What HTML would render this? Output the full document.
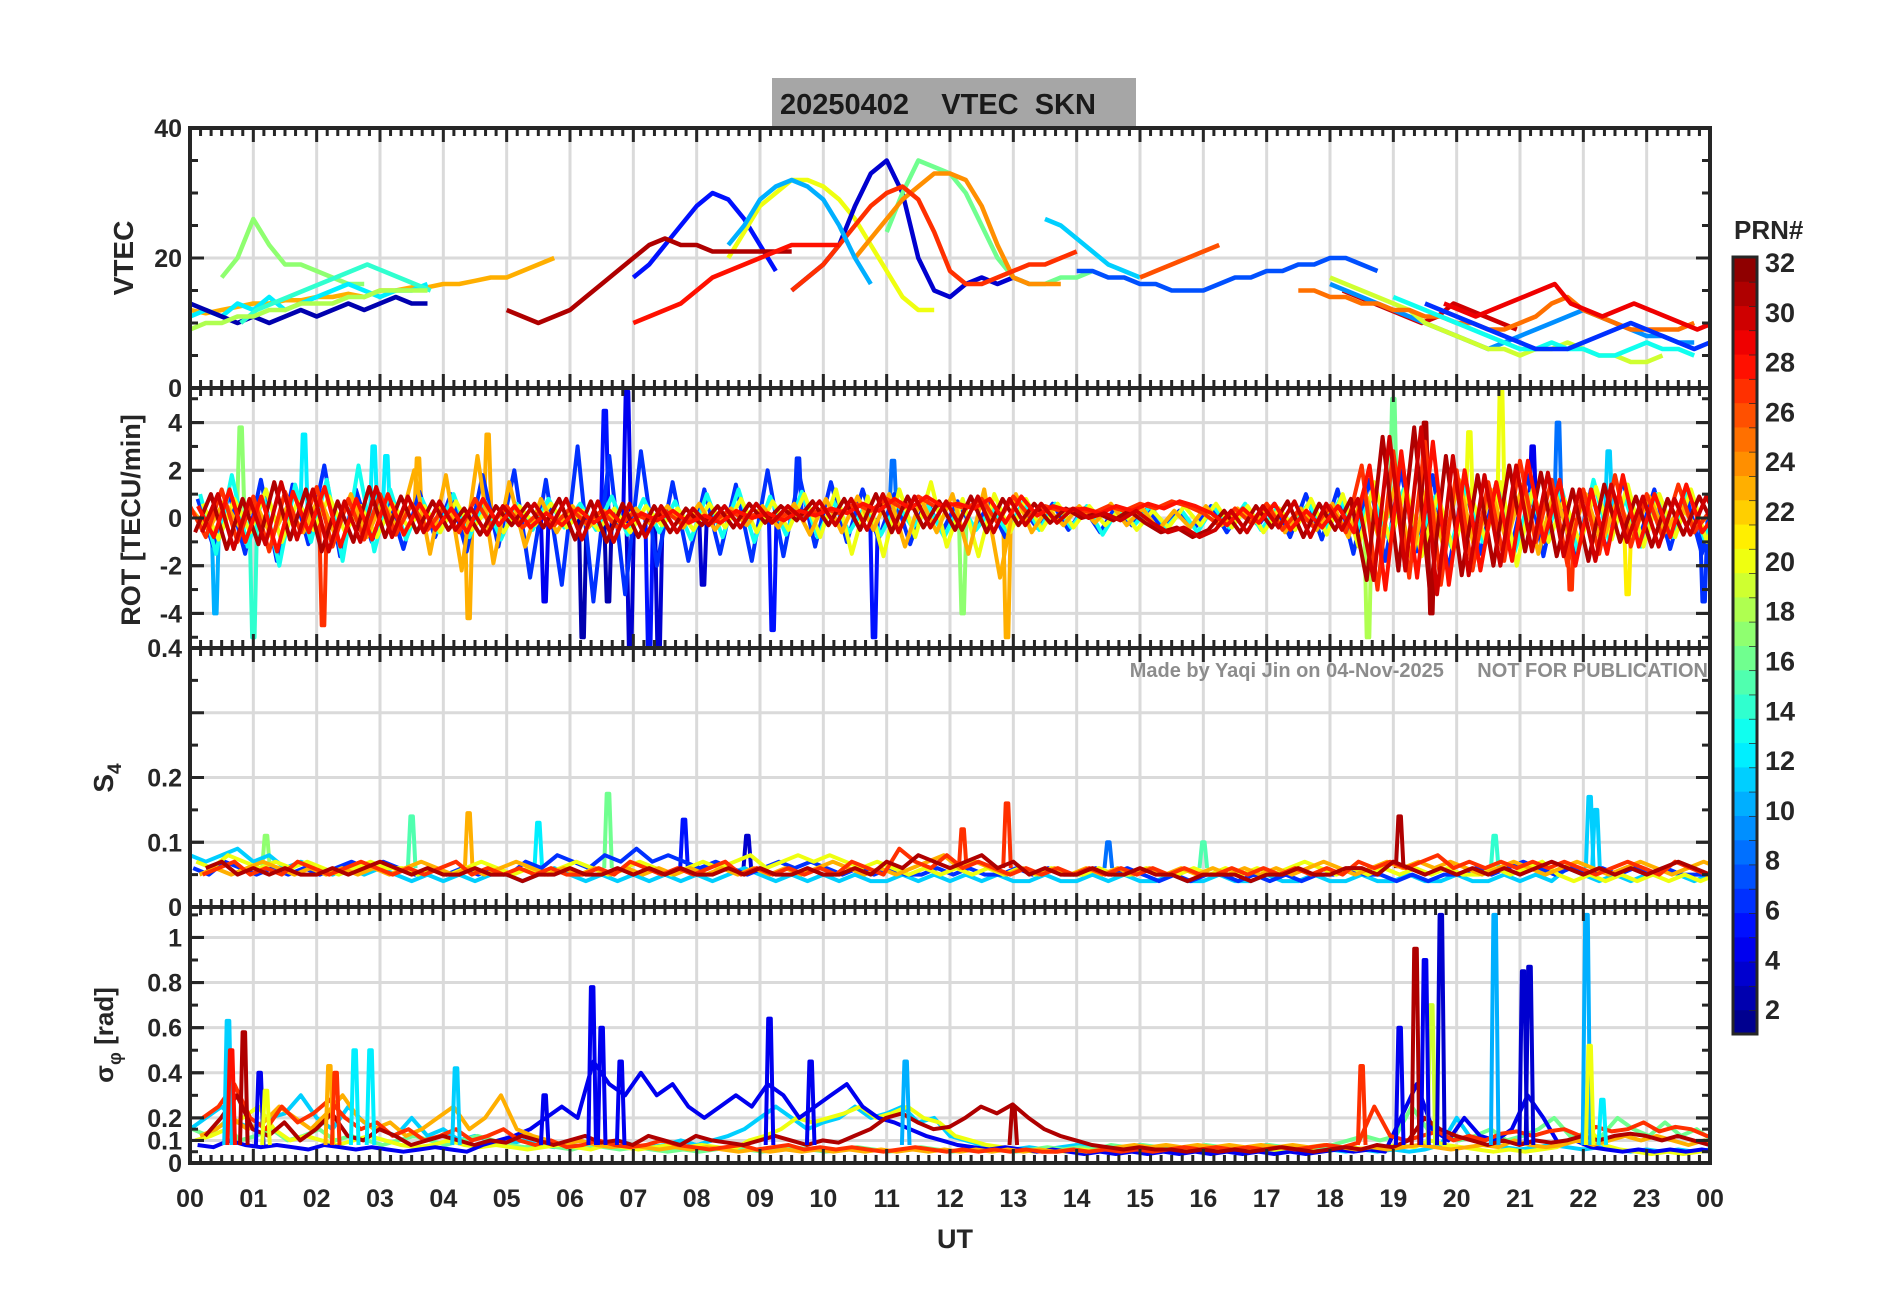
<!DOCTYPE html>
<html><head><meta charset="utf-8">
<style>
html,body{margin:0;padding:0;background:#fff;}
svg{display:block;font-family:"Liberation Sans",sans-serif;}
</style></head>
<body>
<svg id="chart" width="1902" height="1292" viewBox="0 0 1902 1292" xmlns="http://www.w3.org/2000/svg">
<rect x="0" y="0" width="1902" height="1292" fill="#fff"/>
<rect x="772" y="78" width="364" height="49" fill="#a6a6a6"/>
<text x="780" y="114" text-anchor="start" font-size="29" font-weight="bold" fill="#1a1a1a" xml:space="preserve">20250402    VTEC  SKN</text>
<g id="layer"></g>
</svg>
<script>
// ---------- DATA ----------
const hourLabels=["00","01","02","03","04","05","06","07","08","09","10","11","12","13","14","15","16","17","18","19","20","21","22","23","00"];
const vtecTicks=[0,20,40];
const rotTicks=[-4,-2,0,2,4];
const s4Ticks=[0,0.1,0.2,0.4];
const sigTicks=[0,0.1,0.2,0.4,0.6,0.8,1];
const cbTicks=[2,4,6,8,10,12,14,16,18,20,22,24,26,28,30,32];

// VTEC tracks: PRN, start hour, step 0.25h values
const vtecPrn=[17,23,5,20,3,16,24,27,31,10,28,11,26,7,12,2,14,30,9,19,25,13,6,29,18];
const vtecT0=[0.5,0.0,7.0,8.5,9.5,11.0,10.5,9.5,5.0,8.5,7.0,13.5,15.0,14.0,0.0,0.0,0.8,18.2,18.0,18.0,17.5,19.0,19.5,19.8,0.0];
const vtecVals=[
[17,20,26,22,19,19,18,17,16,16],
[12,11.5,12,12.5,13,13,13.5,13.5,14,14,14.5,14,15,15,15.5,15.5,16,16,16.5,17,17,18,19,20],
[17,19,22,25,28,30,29,26,22,18],
[20,24,28,30,32,32,31,29,26,22,18,14,12,12],
[15,17,19,22,28,33,35,30,20,15,14,16,17,16,17,16],
[24,30,35,34,33,30,25,20,17,16,16,17,17,18],
[20,23,26,29,31,33,33,32,28,22,17,16,16,16],
[15,17,19,22,25,28,30,31,29,24,18,16,16,17,18,19,19,20,21],
[12,11,10,11,12,14,16,18,20,22,23,22,22,21,21,21,21,21,21],
[22,25,29,31,32,31,29,25,20,16],
[10,11,12,13,15,17,18,19,20,21,22,22,22,22],
[26,25,23,21,19,18,17],
[17,18,19,20,21,22],
[18,18,17,17,16,16,15,15,15,16,17,17,18,18,19,19,20,20,19,18],
[11,12,11,13,12,14,12,13,14,15,16,15,14,15,15,16],
[13,12,11,10,11,10,11,12,11,12,13,12,13,14,13,13],
[10,12,13,14,15,16,17,18,19,18,17,16,15],
[15,14,13,12,11,10,11,13,12,11,10,9],
[16,15,14,13,12,11,10,9,8,7,6,7,8,9,10,11,12,11,10,9,8,8,7,7],
[17,16,15,14,13,12,10,9,8,7,6,6,5,6,6,7,6,5,5,4,4,5],
[15,15,14,14,13,13,12,12,11,11,10,10,9,9,10,11,13,14,12,11,10,9,9,9,9,10],
[14,13,12,11,10,9,8,7,6,6,7,6,6,5,5,6,7,6,6,5],
[13,12,11,10,9,8,7,6,6,6,7,8,9,10,9,8,7,6,7,8],
[13,12,11,12,13,14,15,16,13,12,11,12,13,12,11,10,9,10],
[9,10,10,11,11,12,12,13,13,13,14,14,15,15,15,15]
];

// ROT series: PRN, start offset, index into value table, step 0.25h
const rotPrn=[6,13,20,23,27,31,28,30];
const rotT0=[0.12,0.16,0.2,0.04,0,0.08,0.125,0.19];
const rotIdx=[3,4,5,2,0,1,0,1];
const rotVals=[
[0.5,-0.8,1.2,-1.0,0.9,-1.4,1.1,-0.6,1.3,-1.2,0.8,-0.9,1.0,-0.7,0.6,-0.5,0.4,-0.6,0.8,-0.3,0.5,-0.4,0.2,-0.3,0.4,-0.2,0.3,-0.4,0.2,-0.1,0.3,-0.2,0.1,-0.2,0.3,0.0,0.2,-0.1,0.3,0.1,0.4,0.2,0.6,0.3,0.8,0.4,0.9,0.5,0.6,0.4,0.8,-0.2,0.9,0.1,0.5,0.3,0.4,0.2,0.5,0.3,0.6,0.4,0.7,0.5,0.2,-0.3,0.4,-0.2,0.6,-0.5,0.3,-0.4,0.5,-0.6,2.2,-3.0,2.8,-2.5,3.2,-2.8,2.0,-2.2,1.5,-1.8,2.4,-1.0,1.6,-2.0,1.2,-1.5,1.8,-1.2,1.0,-0.8,1.4,-0.6,0.3],
[-0.6,1.0,-1.3,0.8,-1.1,1.5,-0.9,1.2,-1.4,0.7,-1.0,1.3,-0.8,0.9,-0.6,0.7,-0.5,0.4,-0.7,0.5,-0.3,0.6,-0.4,0.8,-0.9,0.7,-1.0,0.6,-0.8,0.5,-0.6,0.4,-0.3,0.5,-0.4,0.6,-0.2,0.5,-0.1,0.7,-0.3,0.8,-0.5,1.0,-0.6,0.9,-0.4,0.7,-0.5,0.9,-0.6,0.8,-0.3,0.6,-0.2,0.4,0.0,0.2,-0.1,0.3,-0.2,-0.6,-0.4,-0.8,-0.5,0.3,-0.6,0.5,-0.4,0.7,-0.8,0.6,-0.5,0.8,-2.6,3.4,-2.2,3.8,-3.2,2.6,-2.4,1.8,-2.0,2.2,-1.4,1.9,-1.6,1.2,-1.8,1.4,-1.0,0.9,-1.2,0.8,-0.7,0.9,-0.4],
[0.3,-0.5,0.7,-0.4,0.6,-0.8,0.5,-0.6,0.9,-0.7,1.0,-0.8,0.7,-0.5,2.0,-1.5,1.8,-2.2,2.6,-1.9,1.5,-1.2,0.8,-0.6,0.5,-0.4,0.3,-0.2,0.4,-0.3,0.5,-0.4,0.6,-0.5,0.4,-0.3,0.5,-0.4,0.6,-0.7,0.8,-0.6,0.9,-0.5,1.0,-1.2,0.8,-0.6,1.0,-1.5,1.2,-2.5,1.0,-0.6,0.4,-0.3,0.5,-0.2,0.6,-0.3,0.4,-0.5,0.3,-0.4,0.5,-0.3,0.4,-0.2,0.5,-0.6,0.4,-0.5,0.6,-0.8,1.2,-1.0,1.5,-1.8,1.4,-1.2,1.6,-1.4,1.2,-1.0,1.4,-1.5,1.2,-0.9,1.0,-1.1,0.8,-0.7,0.9,-0.6,0.5,-0.4,0.3],
[0.8,-1.2,1.0,-1.5,1.6,-1.8,1.4,-1.1,2.2,-1.6,1.2,-1.0,0.9,-1.3,1.1,-0.8,1.0,-1.4,1.8,-1.2,2.0,-2.5,1.6,-2.8,3.0,-3.5,2.6,-3.2,2.8,-2.0,1.5,-1.8,1.2,-1.5,1.4,-1.8,2.0,-1.6,1.8,-1.2,1.5,-1.0,1.2,-0.9,1.0,-1.1,0.8,-0.6,0.7,-0.5,0.6,-0.8,0.5,-0.4,0.6,-0.5,0.4,-0.6,0.5,-0.3,0.4,-0.5,0.3,-0.4,0.5,-0.6,0.4,-0.3,0.6,-0.8,1.0,-0.9,1.2,-1.5,1.6,-1.8,2.0,-1.4,1.8,-2.2,1.6,-1.5,1.4,-1.2,1.8,-1.6,1.5,-1.8,1.2,-1.4,1.6,-1.0,1.2,-1.3,1.0,-1.5,0.8],
[1.0,-1.5,1.8,-1.2,0.9,-2.0,1.4,-1.0,1.6,-1.8,2.2,-1.4,1.2,-0.9,0.8,-0.6,1.0,-0.8,0.7,-0.9,0.6,-0.5,0.8,-0.4,0.6,-0.5,0.9,-0.7,0.8,-0.6,0.7,-0.9,1.0,-0.8,1.2,-1.0,0.9,-0.7,1.1,-0.8,0.7,-0.6,0.5,-0.7,0.6,-0.4,0.5,-0.8,0.6,-0.5,0.4,-0.6,0.7,-0.5,0.6,-0.4,0.5,-0.7,0.4,-0.3,0.5,-0.4,0.3,-0.6,0.5,-0.4,0.6,-0.5,0.4,-0.3,0.6,-0.5,0.8,-0.6,1.0,-0.8,1.2,-1.0,0.9,-1.2,1.4,-1.0,1.2,-1.5,1.0,-0.8,1.2,-1.4,1.6,-1.0,0.8,-1.2,1.0,-0.8,1.2,-0.9,0.7],
[0.6,-0.9,0.8,-0.6,1.2,-1.0,0.7,-0.5,0.9,-0.6,0.5,-0.8,0.6,-0.4,0.5,-0.6,0.7,-0.5,0.4,-0.6,0.5,-0.3,0.6,-0.4,0.3,-0.5,0.4,-0.6,0.5,-0.3,0.4,-0.5,0.6,-0.4,0.8,-0.6,0.7,-0.5,1.0,-0.8,1.2,-1.5,0.9,-1.6,1.2,-0.8,1.5,-1.2,0.8,-1.6,1.0,-0.6,0.8,-0.5,0.6,-0.4,0.5,-0.3,0.4,-0.5,0.3,-0.4,0.5,-0.3,0.6,-0.4,0.5,-0.6,0.4,-0.5,0.8,-0.7,1.0,-1.2,1.5,-1.0,1.3,-1.6,1.0,-1.4,1.2,-0.9,1.5,-2.0,1.2,-1.0,0.8,-1.1,1.3,-0.9,1.4,-1.2,1.0,-0.8,1.2,-1.0,0.9]
];
// ROT spikes
const rotSpikeT=[0.4,1.0,2.1,1.8,2.9,3.6,4.4,4.7,5.6,6.55,6.6,6.9,6.95,7.25,7.4,9.2,9.6,10.8,12.2,12.9,18.6,19.0,19.5,19.6,20.7,21.6,21.8,22.7,23.9,6.2,8.1,3.1,0.8,11.1,20.2,21.2,22.4];
const rotSpikeV=[-4,-5,-4.5,3.5,3,2.5,-4.2,3.5,-3.5,4.5,-3.5,5.3,-5.5,-5.5,-5.5,-4.7,2.5,-5,-4,-5,-5,5,4,-4,5.5,4,-3,-3.2,-3.5,-5,-2.8,2.6,3.8,2.4,3.6,3.0,2.8];
const rotSpikeP=[10,14,27,12,12,23,23,23,4,5,2,4,3,5,3,5,6,5,17,23,18,16,31,31,20,8,27,21,6,2,3,12,17,8,20,4,11];

// S4 series
const s4Prn=[11,6,20,23,27,31];
const s4Vals=[
[0.08,0.07,0.08,0.09,0.07,0.08,0.06,0.07,0.06,0.05,0.06,0.05,0.06,0.05,0.04,0.05,0.04,0.05,0.04,0.05,0.05,0.04,0.05,0.06,0.05,0.04,0.05,0.04,0.05,0.04,0.05,0.04,0.05,0.04,0.05,0.06,0.05,0.04,0.05,0.04,0.05,0.04,0.05,0.04,0.04,0.05,0.04,0.05,0.04,0.05,0.04,0.05,0.04,0.04,0.05,0.04,0.04,0.05,0.04,0.05,0.04,0.04,0.05,0.04,0.04,0.05,0.04,0.04,0.05,0.04,0.04,0.05,0.04,0.04,0.05,0.04,0.04,0.05,0.04,0.04,0.05,0.04,0.04,0.05,0.04,0.05,0.04,0.06,0.05,0.04,0.05,0.04,0.05,0.06,0.05,0.04,0.05],
[0.06,0.05,0.07,0.06,0.05,0.06,0.05,0.06,0.05,0.06,0.07,0.06,0.07,0.06,0.05,0.06,0.05,0.06,0.05,0.06,0.05,0.07,0.06,0.08,0.07,0.06,0.08,0.07,0.09,0.07,0.08,0.07,0.06,0.07,0.06,0.05,0.06,0.07,0.06,0.07,0.06,0.05,0.06,0.05,0.06,0.05,0.05,0.06,0.05,0.06,0.05,0.05,0.06,0.05,0.06,0.05,0.05,0.06,0.05,0.06,0.05,0.04,0.05,0.04,0.05,0.05,0.04,0.05,0.04,0.05,0.04,0.05,0.05,0.06,0.05,0.05,0.04,0.05,0.04,0.05,0.05,0.06,0.05,0.06,0.07,0.06,0.05,0.06,0.05,0.06,0.05,0.06,0.05,0.06,0.05,0.05,0.05],
[0.07,0.06,0.08,0.07,0.06,0.07,0.06,0.07,0.06,0.05,0.06,0.07,0.06,0.06,0.05,0.06,0.05,0.06,0.07,0.06,0.05,0.06,0.05,0.06,0.07,0.06,0.05,0.06,0.07,0.06,0.05,0.06,0.07,0.06,0.07,0.08,0.06,0.07,0.08,0.07,0.08,0.07,0.06,0.07,0.06,0.05,0.06,0.05,0.06,0.05,0.06,0.05,0.06,0.05,0.06,0.05,0.05,0.06,0.05,0.05,0.06,0.05,0.05,0.06,0.05,0.06,0.05,0.06,0.05,0.06,0.07,0.06,0.05,0.06,0.05,0.06,0.05,0.06,0.05,0.06,0.05,0.05,0.06,0.05,0.06,0.07,0.05,0.04,0.05,0.04,0.05,0.04,0.05,0.04,0.05,0.04,0.05],
[0.05,0.06,0.05,0.06,0.07,0.06,0.05,0.06,0.05,0.06,0.05,0.06,0.05,0.06,0.07,0.06,0.05,0.06,0.05,0.06,0.07,0.06,0.05,0.06,0.05,0.06,0.05,0.06,0.05,0.06,0.05,0.06,0.05,0.06,0.05,0.06,0.05,0.06,0.05,0.06,0.07,0.06,0.05,0.06,0.05,0.06,0.07,0.08,0.06,0.07,0.06,0.05,0.06,0.05,0.06,0.05,0.06,0.05,0.06,0.05,0.06,0.05,0.06,0.05,0.06,0.05,0.06,0.05,0.06,0.05,0.06,0.07,0.06,0.05,0.06,0.07,0.06,0.07,0.06,0.07,0.06,0.05,0.06,0.07,0.06,0.05,0.06,0.07,0.06,0.05,0.06,0.07,0.06,0.05,0.06,0.07,0.06],
[0.05,0.06,0.07,0.05,0.06,0.05,0.07,0.06,0.05,0.06,0.07,0.06,0.05,0.06,0.05,0.06,0.07,0.05,0.06,0.05,0.06,0.05,0.06,0.05,0.05,0.06,0.05,0.07,0.06,0.05,0.06,0.05,0.06,0.07,0.05,0.06,0.05,0.06,0.05,0.06,0.05,0.07,0.06,0.05,0.09,0.07,0.06,0.08,0.06,0.07,0.06,0.05,0.06,0.05,0.06,0.05,0.06,0.05,0.06,0.05,0.06,0.05,0.06,0.05,0.05,0.06,0.05,0.06,0.05,0.06,0.05,0.06,0.05,0.07,0.06,0.07,0.06,0.07,0.08,0.06,0.07,0.06,0.07,0.06,0.07,0.06,0.07,0.06,0.05,0.06,0.07,0.06,0.05,0.07,0.06,0.05,0.06],
[0.06,0.07,0.05,0.06,0.05,0.06,0.05,0.05,0.06,0.05,0.06,0.07,0.06,0.05,0.06,0.05,0.05,0.06,0.05,0.05,0.04,0.05,0.05,0.06,0.05,0.05,0.06,0.05,0.06,0.05,0.06,0.05,0.05,0.06,0.05,0.06,0.05,0.05,0.06,0.05,0.05,0.06,0.05,0.07,0.06,0.08,0.07,0.06,0.07,0.08,0.06,0.07,0.05,0.06,0.05,0.05,0.06,0.05,0.05,0.06,0.05,0.05,0.04,0.05,0.05,0.05,0.04,0.05,0.05,0.06,0.05,0.05,0.06,0.06,0.05,0.07,0.06,0.05,0.06,0.05,0.06,0.05,0.06,0.05,0.06,0.07,0.06,0.05,0.06,0.05,0.06,0.05,0.06,0.07,0.06,0.05,0.06]
];
const s4SpikeT=[3.5,4.4,6.6,7.8,12.9,19.1,22.1,22.2,12.2,5.5,1.2,8.8,14.5,16.0,20.6];
const s4SpikeV=[0.14,0.145,0.175,0.135,0.16,0.14,0.17,0.15,0.12,0.13,0.11,0.11,0.1,0.1,0.11];
const s4SpikeP=[15,23,16,5,27,31,11,11,27,12,17,3,8,15,14];

// Sigma-phi series
const sigPrn=[11,16,20,4,23,27,31];
const sigVals=[
[0.15,0.2,0.25,0.18,0.15,0.2,0.22,0.3,0.2,0.15,0.25,0.18,0.15,0.12,0.2,0.12,0.15,0.1,0.12,0.1,0.08,0.1,0.08,0.07,0.08,0.07,0.08,0.1,0.08,0.07,0.08,0.1,0.08,0.1,0.12,0.15,0.2,0.25,0.2,0.15,0.18,0.2,0.25,0.2,0.22,0.25,0.18,0.2,0.12,0.1,0.08,0.07,0.06,0.07,0.06,0.07,0.08,0.07,0.06,0.07,0.08,0.07,0.06,0.07,0.06,0.07,0.06,0.07,0.08,0.07,0.06,0.07,0.06,0.05,0.06,0.05,0.06,0.05,0.06,0.08,0.2,0.1,0.08,0.07,0.06,0.07,0.08,0.07,0.06,0.07,0.06,0.05,0.06,0.05,0.06,0.05,0.06],
[0.15,0.12,0.18,0.1,0.12,0.15,0.1,0.12,0.15,0.1,0.12,0.1,0.08,0.1,0.12,0.1,0.08,0.1,0.12,0.1,0.08,0.07,0.08,0.07,0.06,0.08,0.07,0.06,0.07,0.06,0.05,0.06,0.05,0.06,0.07,0.06,0.05,0.06,0.07,0.06,0.05,0.06,0.07,0.06,0.05,0.06,0.07,0.06,0.05,0.06,0.07,0.06,0.05,0.06,0.07,0.06,0.07,0.06,0.08,0.07,0.08,0.07,0.06,0.07,0.08,0.07,0.06,0.07,0.08,0.07,0.06,0.07,0.08,0.1,0.12,0.1,0.12,0.25,0.15,0.12,0.1,0.12,0.15,0.1,0.12,0.15,0.2,0.12,0.1,0.12,0.2,0.15,0.12,0.18,0.12,0.15,0.1],
[0.1,0.12,0.15,0.2,0.25,0.15,0.1,0.12,0.1,0.08,0.1,0.12,0.1,0.08,0.07,0.08,0.1,0.08,0.07,0.08,0.07,0.06,0.07,0.08,0.07,0.06,0.08,0.07,0.06,0.07,0.08,0.07,0.08,0.07,0.06,0.1,0.12,0.15,0.2,0.18,0.2,0.22,0.25,0.2,0.22,0.25,0.2,0.18,0.12,0.1,0.08,0.07,0.06,0.05,0.06,0.05,0.06,0.05,0.06,0.05,0.06,0.05,0.06,0.05,0.06,0.05,0.06,0.05,0.06,0.05,0.06,0.05,0.06,0.07,0.06,0.07,0.08,0.07,0.1,0.08,0.07,0.06,0.05,0.06,0.05,0.06,0.07,0.1,0.15,0.08,0.06,0.05,0.04,0.05,0.04,0.05,0.06],
[0.08,0.07,0.1,0.08,0.07,0.08,0.07,0.06,0.08,0.07,0.06,0.07,0.06,0.05,0.06,0.07,0.06,0.05,0.08,0.1,0.12,0.15,0.2,0.25,0.2,0.45,0.35,0.3,0.4,0.3,0.35,0.25,0.2,0.25,0.3,0.25,0.35,0.3,0.2,0.25,0.3,0.35,0.25,0.2,0.18,0.15,0.12,0.1,0.08,0.07,0.06,0.07,0.06,0.05,0.06,0.05,0.04,0.05,0.04,0.05,0.04,0.05,0.04,0.05,0.04,0.05,0.04,0.05,0.04,0.05,0.04,0.05,0.06,0.05,0.06,0.05,0.2,0.35,0.15,0.1,0.2,0.12,0.1,0.15,0.3,0.2,0.08,0.1,0.07,0.06,0.05,0.06,0.05,0.06,0.05,0.06,0.05],
[0.12,0.15,0.2,0.15,0.18,0.25,0.2,0.15,0.22,0.3,0.2,0.15,0.18,0.12,0.15,0.2,0.25,0.15,0.2,0.3,0.15,0.12,0.1,0.08,0.1,0.08,0.07,0.08,0.07,0.06,0.07,0.06,0.07,0.06,0.05,0.06,0.05,0.06,0.05,0.06,0.05,0.06,0.05,0.06,0.05,0.06,0.05,0.06,0.05,0.06,0.05,0.06,0.05,0.06,0.05,0.06,0.05,0.06,0.07,0.08,0.07,0.08,0.07,0.08,0.07,0.08,0.07,0.08,0.07,0.08,0.07,0.08,0.07,0.06,0.07,0.06,0.07,0.08,0.07,0.06,0.07,0.08,0.07,0.1,0.08,0.07,0.08,0.1,0.08,0.1,0.12,0.1,0.12,0.1,0.08,0.1,0.08],
[0.2,0.25,0.35,0.2,0.15,0.25,0.18,0.22,0.28,0.2,0.15,0.18,0.12,0.15,0.1,0.12,0.15,0.1,0.12,0.15,0.1,0.08,0.1,0.07,0.08,0.1,0.08,0.07,0.08,0.1,0.08,0.07,0.06,0.07,0.08,0.06,0.07,0.08,0.06,0.07,0.06,0.07,0.06,0.05,0.06,0.07,0.06,0.05,0.06,0.05,0.06,0.05,0.06,0.05,0.05,0.06,0.05,0.06,0.05,0.06,0.05,0.06,0.07,0.06,0.07,0.06,0.07,0.06,0.07,0.06,0.07,0.08,0.07,0.09,0.25,0.12,0.1,0.12,0.14,0.1,0.12,0.1,0.13,0.14,0.12,0.14,0.15,0.12,0.16,0.14,0.15,0.18,0.14,0.16,0.15,0.12,0.1],
[0.12,0.2,0.3,0.15,0.12,0.18,0.1,0.15,0.22,0.12,0.1,0.15,0.12,0.08,0.1,0.12,0.1,0.08,0.1,0.09,0.12,0.1,0.08,0.1,0.12,0.09,0.1,0.08,0.12,0.1,0.08,0.12,0.1,0.09,0.08,0.1,0.12,0.1,0.08,0.1,0.09,0.12,0.15,0.2,0.22,0.18,0.15,0.16,0.2,0.25,0.22,0.26,0.2,0.15,0.12,0.1,0.08,0.07,0.06,0.07,0.06,0.06,0.05,0.06,0.05,0.06,0.05,0.06,0.07,0.06,0.05,0.06,0.07,0.06,0.08,0.07,0.1,0.2,0.15,0.12,0.1,0.08,0.1,0.08,0.1,0.09,0.1,0.12,0.1,0.12,0.13,0.12,0.1,0.12,0.1,0.08,0.09]
];
const sigSpikeT=[0.6,0.65,0.85,1.1,1.2,2.2,2.3,2.6,2.85,4.2,5.6,6.35,6.5,6.8,9.15,9.8,11.3,18.5,19.1,19.35,19.6,19.75,19.5,20.6,21.05,21.15,22.05,22.1,22.3,13.0];
const sigSpikeV=[0.63,0.5,0.58,0.4,0.32,0.43,0.4,0.5,0.5,0.42,0.3,0.78,0.6,0.45,0.64,0.45,0.45,0.43,0.6,0.95,0.7,1.1,0.9,1.1,0.85,0.87,1.1,0.52,0.28,0.25];
const sigSpikeP=[11,28,31,4,20,23,27,12,12,11,4,4,4,4,4,4,10,27,4,31,19,3,4,10,3,3,10,20,12,31];

// ---------- GEOMETRY ----------
const NS="http://www.w3.org/2000/svg";
const X0=190,X1=1710;
const panels=[{top:128,bot:388,min:0,max:40},{top:388,bot:648,min:-5.45,max:5.45},{top:648,bot:907,min:0,max:0.4},{top:907,bot:1163,min:0,max:1.135}];
function xs(h){return X0+(h/24)*(X1-X0);}
function ys(p,v){const P=panels[p];return P.bot-(v-P.min)/(P.max-P.min)*(P.bot-P.top);}
function jet(p){const t=(p-0.5)/32;const c=v=>Math.round(255*Math.max(0,Math.min(1,v)));
 return `rgb(${c(1.5-Math.abs(4*t-3))},${c(1.5-Math.abs(4*t-2))},${c(1.5-Math.abs(4*t-1))})`;}
const layer=document.getElementById('layer');
function mk(tag,attrs,parent){const e=document.createElementNS(NS,tag);for(const k in attrs)e.setAttribute(k,attrs[k]);(parent||layer).appendChild(e);return e;}

const defs=mk('defs',{});
panels.forEach((P,i)=>{const cp=mk('clipPath',{id:'clip'+i},defs);mk('rect',{x:X0,y:P.top,width:X1-X0,height:P.bot-P.top},cp);});

const yTicks=[vtecTicks,rotTicks,s4Ticks,sigTicks];
const gridVals=[[20],[-4,-2,0,2,4],[0.1,0.2,0.3],[0.1,0.2,0.4,0.6,0.8,1]];
const minorY=[[5,10,15,25,30,35],[-5,-3,-1,1,3,5],[0.05,0.15,0.25,0.35],[0.05,0.15,0.3,0.5,0.7,0.9,1.1]];
const panelNames=['vtec','rot','s4','sigma-phi'];

panels.forEach((P,i)=>{
 const g=mk('g',{});
 
 
 for(let h=1;h<24;h++){mk('line',{x1:xs(h),x2:xs(h),y1:P.top,y2:P.bot,stroke:'#dadada','stroke-width':3},g);}
 gridVals[i].forEach(v=>{mk('line',{x1:X0,x2:X1,y1:ys(i,v),y2:ys(i,v),stroke:'#dadada','stroke-width':3},g);});
});

function poly(p,t0,dt,vals,prn,name,w){
 const pts=vals.map((v,k)=>xs(t0+k*dt).toFixed(1)+','+ys(p,v).toFixed(1)).join(' ');
 const e=mk('polyline',{points:pts,fill:'none',stroke:jet(prn),'stroke-width':w||4.5,'stroke-linejoin':'round','clip-path':`url(#clip${p})`});
 
 
}
function spike(p,t,v,base,prn,name){
 const pts=[[t-0.06,base],[t-0.02,v],[t+0.02,v],[t+0.06,base]].map(q=>xs(q[0]).toFixed(1)+','+ys(p,q[1]).toFixed(1)).join(' ');
 const e=mk('polyline',{points:pts,fill:'none',stroke:jet(prn),'stroke-width':4,'stroke-linejoin':'round','clip-path':`url(#clip${p})`});
 
 
}
vtecVals.forEach((v,i)=>poly(0,vtecT0[i],0.25,v,vtecPrn[i],'vtec-prn'+vtecPrn[i],4.5));
rotSpikeT.forEach((t,i)=>spike(1,t,rotSpikeV[i],0,rotSpikeP[i],'rot-spike'));
rotPrn.forEach((p,i)=>poly(1,rotT0[i],0.25,rotVals[rotIdx[i]],p,'rot-prn'+p,4));
s4SpikeT.forEach((t,i)=>spike(2,t,s4SpikeV[i],0.06,s4SpikeP[i],'s4-spike'));
s4Vals.forEach((v,i)=>poly(2,i*0.05,0.25,v,s4Prn[i],'s4-prn'+s4Prn[i],4));
sigVals.forEach((v,i)=>poly(3,i*0.04,0.25,v,sigPrn[i],'sigma-prn'+sigPrn[i],4));
sigSpikeT.forEach((t,i)=>spike(3,t,sigSpikeV[i],0.08,sigSpikeP[i],'sigma-spike'));

const AX='#262626';
panels.forEach((P,i)=>{
 const g=mk('g',{});
 
 
 for(let m=0;m<=144;m++){const x=xs(m/6);const L=(m%6===0)?14:8;
  mk('line',{x1:x,x2:x,y1:P.top,y2:P.top+L,stroke:AX,'stroke-width':3},g);
  mk('line',{x1:x,x2:x,y1:P.bot,y2:P.bot-L,stroke:AX,'stroke-width':3},g);}
 yTicks[i].concat(gridVals[i]).forEach(v=>{const y=ys(i,v);
  mk('line',{x1:X0,x2:X0+14,y1:y,y2:y,stroke:AX,'stroke-width':3},g);
  mk('line',{x1:X1,x2:X1-14,y1:y,y2:y,stroke:AX,'stroke-width':3},g);});
 minorY[i].forEach(v=>{const y=ys(i,v);
  mk('line',{x1:X0,x2:X0+8,y1:y,y2:y,stroke:AX,'stroke-width':3},g);
  mk('line',{x1:X1,x2:X1-8,y1:y,y2:y,stroke:AX,'stroke-width':3},g);});
 mk('rect',{x:X0,y:P.top,width:X1-X0,height:P.bot-P.top,fill:'none',stroke:AX,'stroke-width':4},g);
 yTicks[i].forEach(v=>{
  const t=mk('text',{x:X0-8,y:ys(i,v)+9,'text-anchor':'end','font-size':25,'font-weight':'bold',fill:AX},g);
  t.textContent=String(v);
  
  
 });
});
hourLabels.forEach((s,k)=>{
 const t=mk('text',{x:xs(k),y:1207,'text-anchor':'middle','font-size':25,'font-weight':'bold',fill:AX});
 t.textContent=s;
 
 
});
</script>
<script>
(function(){
 const NS="http://www.w3.org/2000/svg";const svg=document.getElementById('chart');
 svg.insertAdjacentHTML('beforeend',`
 <text x="955" y="1248" text-anchor="middle" font-size="27" font-weight="bold" fill="#262626">UT</text>
 <text transform="translate(133,258) rotate(-90)" text-anchor="middle" font-size="28" font-weight="bold" fill="#262626">VTEC</text>
 <text transform="translate(140,520) rotate(-90)" text-anchor="middle" font-size="27" font-weight="bold" fill="#262626">ROT [TECU/min]</text>
 <text transform="translate(113,778) rotate(-90)" text-anchor="middle" font-size="28" font-weight="bold" fill="#262626">S<tspan font-size="19" dy="8">4</tspan></text>
 <text transform="translate(113,1035) rotate(-90)" text-anchor="middle" font-size="26" font-weight="bold" fill="#262626">σ<tspan font-size="18" dy="8">φ</tspan><tspan dy="-8"> [rad]</tspan></text>
 <text x="1708" y="677" text-anchor="end" font-size="20" font-weight="bold" fill="#8c8c8c" xml:space="preserve">Made by Yaqi Jin on 04-Nov-2025      NOT FOR PUBLICATION</text>
 <text x="1734" y="239" font-size="26" font-weight="bold" fill="#262626">PRN#</text>
 `);
 const g=document.createElementNS(NS,'g');
 
 
 svg.appendChild(g);
 const top=257,bot=1034,x=1733,w=24;
 function jet(p){const t=(p-0.5)/32;const c=v=>Math.round(255*Math.max(0,Math.min(1,v)));
  return `rgb(${c(1.5-Math.abs(4*t-3))},${c(1.5-Math.abs(4*t-2))},${c(1.5-Math.abs(4*t-1))})`;}
 const h=(bot-top)/32;
 for(let p=1;p<=32;p++){const r=document.createElementNS(NS,'rect');
  r.setAttribute('x',x);r.setAttribute('y',bot-p*h);r.setAttribute('width',w);r.setAttribute('height',h+0.5);r.setAttribute('fill',jet(p));g.appendChild(r);
  const l=document.createElementNS(NS,'line');l.setAttribute('x1',x+w-8);l.setAttribute('x2',x+w);l.setAttribute('y1',bot-p*h);l.setAttribute('y2',bot-p*h);l.setAttribute('stroke','#262626');l.setAttribute('stroke-width','2.5');g.appendChild(l);}
 const fr=document.createElementNS(NS,'rect');fr.setAttribute('x',x);fr.setAttribute('y',top);fr.setAttribute('width',w);fr.setAttribute('height',bot-top);fr.setAttribute('fill','none');fr.setAttribute('stroke','#262626');fr.setAttribute('stroke-width','3');g.appendChild(fr);
 cbTicks.forEach(v=>{const t=document.createElementNS(NS,'text');
  t.setAttribute('x',x+w+8);t.setAttribute('y',bot-(v-1)/31.2*(bot-top)+10);t.setAttribute('font-size','27');t.setAttribute('font-weight','bold');t.setAttribute('fill','#262626');
  
  
  t.textContent=String(v);g.appendChild(t);});
})();
</script>
</body></html>
